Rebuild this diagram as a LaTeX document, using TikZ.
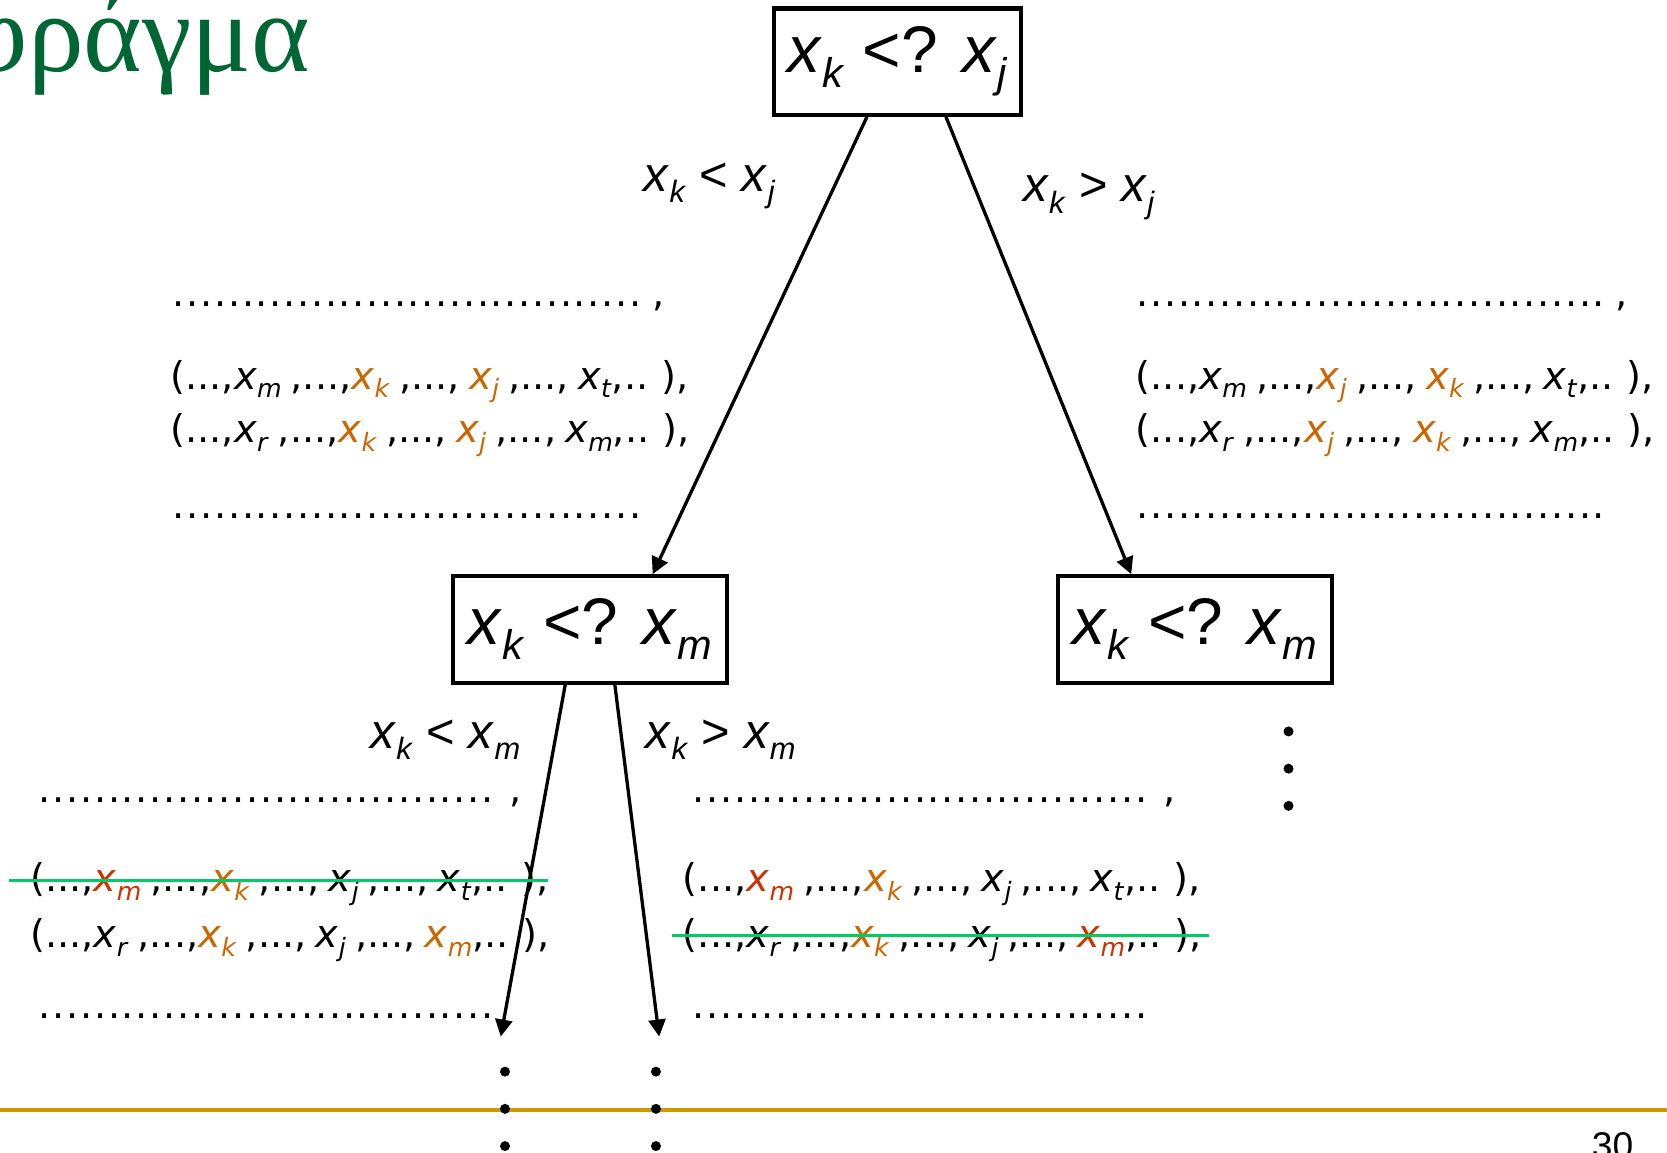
\documentclass[tikz,border=0pt]{standalone}
\usepackage{fontspec}
\setmainfont{Liberation Sans}
\newfontfamily\titlefont{Liberation Serif}
\newfontfamily\rowfont{DejaVu Sans}[WordSpace=0.75]
\usetikzlibrary{arrows.meta,calc}
\definecolor{ttl}{RGB}{0,102,51}
\definecolor{orx}{RGB}{204,102,0}
\definecolor{rdx}{RGB}{204,51,0}
\definecolor{grn}{RGB}{0,204,102}
\definecolor{gld}{RGB}{204,153,0}
\newcommand\subscl{0.63}
\newcommand\sbx[1]{\raisebox{-0.23em}{\scalebox{\subscl}{\textit{#1}}}}
\newcommand\vx[1]{\textit{x}\sbx{#1}}
\newcommand\ox[1]{{\color{orx}\vx{#1}}}
\newcommand\rx[1]{{\color{rdx}\vx{#1}}}
\newcommand\dd{...}
\newcommand\dotrow[1]{\hbox to #1pt{\cleaders\hbox to 6.5pt{\hss.\hss}\hfill}}
\begin{document}
\begin{tikzpicture}[x=0.5pt,y=-0.5pt,
  box/.style={draw, line width=1.9pt, inner sep=0, minimum height=50pt, font=\fontsize{31}{36}\selectfont},
  lbl/.style={anchor=base west, inner sep=0, font=\fontsize{23}{28}\selectfont},
  row/.style={anchor=base west, inner sep=0, font=\rowfont\fontsize{18}{21}\selectfont\renewcommand\subscl{0.66}},
  arr/.style={line width=1.55pt, -{Triangle[length=8pt,width=8pt]}},
  strike/.style={draw=grn, line width=1.6pt},
  vdot/.style={circle, fill=black, inner sep=0, minimum size=4.7pt},
]
\useasboundingbox (0,0) rectangle (1568,1084.5);
% title
\node[anchor=base east, inner sep=0, text=ttl, font=\titlefont\fontsize{52.5}{56}\selectfont] (title) at (292,67.5) {Κάτω φράγμα};
% boxes
\node[box, minimum width=116pt] (b1) at (844,58) {\vx{k} <? \vx{j}};
\node[box, minimum width=129pt] (b2) at (555,592) {\vx{k} <? \vx{m}};
\node[box, minimum width=129pt] (b3) at (1124,592) {\vx{k} <? \vx{m}};
% edge labels
\node[lbl] (l1) at (605,180) {\vx{k} < \vx{j}};
\node[lbl] (l2) at (962,190) {\vx{k} > \vx{j}};
\node[lbl] (l3) at (348,704) {\vx{k} < \vx{m}};
\node[lbl] (l4) at (607,704) {\vx{k} > \vx{m}};
% arrows
\coordinate (e1) at (471,975);
\coordinate (e2) at (620,975);
\draw[arr] ($(b1.south west)!0.379!(b1.south east)$) -- ($(b2.north west)!0.725!(b2.north east)$);
\draw[arr] ($(b1.south west)!0.694!(b1.south east)$) -- ($(b3.north west)!0.271!(b3.north east)$);
\draw[arr] ($(b2.south west)!0.411!(b2.south east)$) -- (e1);
\draw[arr] ($(b2.south west)!0.589!(b2.south east)$) -- (e2);
% top-left list
\node[row] (tl0) at (160,288) {\dotrow{222.5} ,};
\node[row] (tl1) at (160,366) {(\dd,\vx{m} ,\dd,\ox{k} ,\dd, \ox{j} ,\dd, \vx{t},.. ),};
\node[row] (tl2) at (160,416) {(\dd,\vx{r} ,\dd,\ox{k} ,\dd, \ox{j} ,\dd, \vx{m},.. ),};
\node[row] (tl3) at (160,488) {\dotrow{222.5}};
% top-right list
\node[row] (tr0) at (1068,288) {\dotrow{221} ,};
\node[row] (tr1) at (1068,366) {(\dd,\vx{m} ,\dd,\ox{j} ,\dd, \ox{k} ,\dd, \vx{t},.. ),};
\node[row] (tr2) at (1068,416) {(\dd,\vx{r} ,\dd,\ox{j} ,\dd, \ox{k} ,\dd, \vx{m},.. ),};
\node[row] (tr3) at (1068,488) {\dotrow{221}};
% bottom-left list
\node[row] (bl0) at (30,755) {\dotrow{220} ,};
\node[row] (bl1) at (28,839) {(\dd,\rx{m} ,\dd,\ox{k} ,\dd, \vx{j} ,\dd, \vx{t},.. ),};
\node[row] (bl2) at (28,891) {(\dd,\vx{r} ,\dd,\ox{k} ,\dd, \vx{j} ,\dd, \ox{m},.. ),};
\node[row] (bl3) at (30,958) {\dotrow{220}};
% bottom-right list
\node[row] (br0) at (645,755) {\dotrow{220} ,};
\node[row] (br1) at (642,839) {(\dd,\rx{m} ,\dd,\ox{k} ,\dd, \vx{j} ,\dd, \vx{t},.. ),};
\node[row] (br2) at (642,891) {(\dd,\vx{r} ,\dd,\ox{k} ,\dd, \vx{j} ,\dd, \rx{m},.. ),};
\node[row] (br3) at (645,958) {\dotrow{220}};
% strike-through lines
\coordinate (s1a) at (8,828); \coordinate (s1b) at (515,828);
\coordinate (s2a) at (632,880); \coordinate (s2b) at (1137,880);
\draw[strike] (s1a) -- (s1b);
\draw[strike] (s2a) -- (s2b);
% vertical dots
\node[vdot] (v1) at (1212,688) {};
\node[vdot] (v2) at (1212,723) {};
\node[vdot] (v3) at (1212,758) {};
\node[vdot] (p1) at (475,1008) {};
\node[vdot] (p3) at (475,1078) {};
\node[vdot] (q1) at (617,1008) {};
\node[vdot] (q3) at (617,1078) {};
% footer line
\coordinate (g1) at (0,1044); \coordinate (g2) at (1568,1044);
\draw[gld, line width=1.9pt] (g1) -- (g2);
\node[vdot] (p2) at (475,1043) {};
\node[vdot] (q2) at (617,1043) {};
\node[anchor=base west, inner sep=0, font=\fontsize{17.5}{20}\selectfont] (pg) at (1497,1090) {30};
\end{tikzpicture}
\end{document}
